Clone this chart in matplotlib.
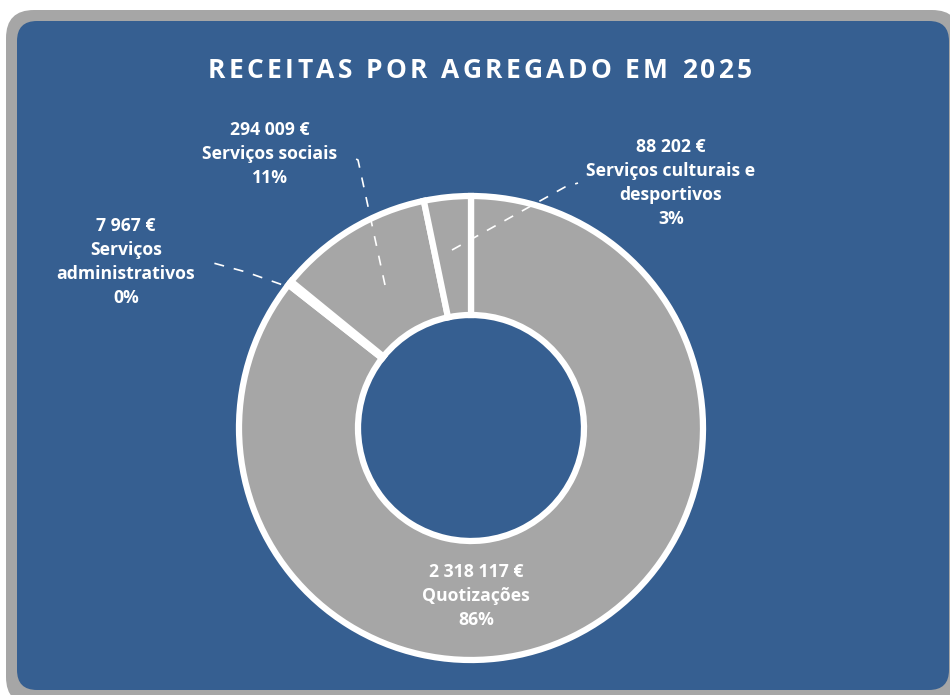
import matplotlib
matplotlib.use("Agg")
import matplotlib.pyplot as plt
from matplotlib.patches import FancyBboxPatch
import numpy as np

plt.rcParams['font.family'] = ['Open Sans', 'DejaVu Sans']

title = "RECEITAS POR AGREGADO EM 2025"
categories = ["Quotizações", "Serviços administrativos", "Serviços sociais",
              "Serviços culturais e desportivos"]
values = [2318117, 7967, 294009, 88202]
amount_labels = ["2 318 117 €", "7 967 €", "294 009 €", "88 202 €"]
name_labels = ["Quotizações", "Serviços\nadministrativos", "Serviços sociais",
               "Serviços culturais e\ndesportivos"]

W, H = 950, 695
fig = plt.figure(figsize=(W / 100, H / 100), dpi=100)
ax = fig.add_axes([0, 0, 1, 1])
ax.set_xlim(0, W)
ax.set_ylim(0, H)
ax.set_aspect('equal')
ax.axis('off')
fig.patch.set_facecolor('white')

def Y(y):
    return H - y

# frame
gray = FancyBboxPatch((6 + 28, Y(705) + 28), 960 - 6 - 56, 705 - 10 - 56,
                      boxstyle="round,pad=28", fc="#A6A6A6", ec="none", zorder=0)
ax.add_patch(gray)
blue = FancyBboxPatch((17 + 20, Y(690) + 20), 949 - 17 - 40, 690 - 21 - 40,
                      boxstyle="round,pad=20", fc="#365F91", ec="none", zorder=1)
ax.add_patch(blue)

# title with letter spacing
renderer = fig.canvas.get_renderer()
chars = []
widths = []
for ch in title:
    t = ax.text(0, Y(70), ch, color="white", fontsize=19, fontweight="bold",
                ha="left", va="center", zorder=5)
    bb = t.get_window_extent(renderer=renderer)
    chars.append(t)
    widths.append(bb.width if ch != " " else 7.0)
target_w = 544
spacing = (target_w - sum(widths)) / (len(title) - 1)
x = 480 - target_w / 2
for t, w in zip(chars, widths):
    t.set_x(x)
    x += w + spacing

# donut
cx, cy, R, r_in = 471, Y(428), 232, 113
total = sum(values)
wedges, _ = ax.pie(values, center=(cx, cy), radius=R, startangle=90,
                   counterclock=False, colors=["#A6A6A6"] * len(values),
                   wedgeprops=dict(width=R - r_in, edgecolor="white", linewidth=4.5),
                   frame=True)
for w in wedges:
    w.set_zorder(3)
ax.set_xlim(0, W)
ax.set_ylim(0, H)
ax.axis('off')

pcts = [f"{round(v / total * 100):.0f}%" for v in values]
labels = [f"{a}\n{n}\n{p}" for a, n, p in zip(amount_labels, name_labels, pcts)]
label_pos = [(476, 596), (126, 262), (270, 154), (671, 183)]
for lab, (lx, ly) in zip(labels, label_pos):
    ax.text(lx, Y(ly), lab, color="white", fontsize=12.7, fontweight="bold",
            ha="center", va="center", linespacing=1.42, zorder=6)

# leader lines
leaders = [
    [(300, 291), (246, 272), (206, 261)],
    [(385, 285), (358, 160), (350, 156)],
    [(452, 250), (565, 187), (578, 183)],
]
for pts in leaders:
    xs = [p[0] for p in pts]
    ys = [Y(p[1]) for p in pts]
    ax.plot(xs, ys, color="white", lw=1.2, ls=(0, (6, 6)), zorder=5)

fig.savefig("out.png", dpi=100, facecolor="white")
